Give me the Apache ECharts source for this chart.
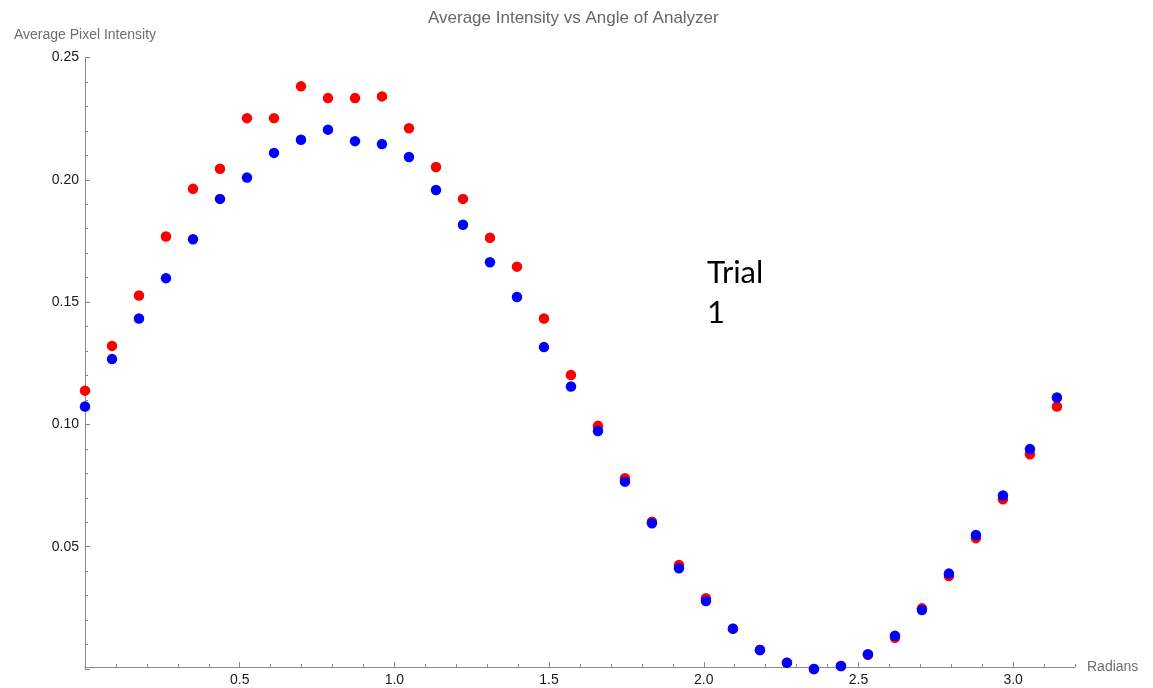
<!DOCTYPE html>
<html>
<head>
<meta charset="utf-8">
<script src="https://cdn.jsdelivr.net/npm/echarts@6/dist/echarts.min.js"></script>
<style>
  html, body { margin: 0; padding: 0; background: #fff; }
  #chart { width: 1153px; height: 688px; }
</style>
</head>
<body>
<div id="chart"></div>
<script>
// Analyzer angle in radians (5 degree steps from 0 to pi)
const radians = [
  0.0000, 0.0873, 0.1745, 0.2618, 0.3491, 0.4363, 0.5236, 0.6109, 0.6981, 0.7854,
  0.8727, 0.9599, 1.0472, 1.1345, 1.2217, 1.3090, 1.3963, 1.4835, 1.5708, 1.6581,
  1.7453, 1.8326, 1.9199, 2.0071, 2.0944, 2.1817, 2.2689, 2.3562, 2.4435, 2.5307,
  2.6180, 2.7053, 2.7925, 2.8798, 2.9671, 3.0543, 3.1416
];

// Average pixel intensity, red set
const redIntensity = [
  0.1138, 0.1321, 0.1527, 0.1768, 0.1963, 0.2045, 0.2252, 0.2252, 0.2382, 0.2334,
  0.2334, 0.2341, 0.2211, 0.2052, 0.1922, 0.1763, 0.1645, 0.1433, 0.1202, 0.0994,
  0.0780, 0.0602, 0.0425, 0.0289, 0.0165, 0.0078, 0.0026, 0.0000, 0.0012, 0.0058,
  0.0128, 0.0248, 0.0380, 0.0535, 0.0694, 0.0878, 0.1073
];

// Average pixel intensity, blue set
const blueIntensity = [
  0.1073, 0.1267, 0.1433, 0.1598, 0.1757, 0.1922, 0.2009, 0.2110, 0.2164, 0.2205,
  0.2158, 0.2146, 0.2093, 0.1958, 0.1816, 0.1663, 0.1521, 0.1316, 0.1155, 0.0973,
  0.0766, 0.0596, 0.0412, 0.0278, 0.0165, 0.0078, 0.0026, 0.0000, 0.0012, 0.0060,
  0.0136, 0.0241, 0.0390, 0.0548, 0.0709, 0.0899, 0.1110
];

// Major tick positions and labelled values on the x axis
const xMajorTicks = [0, 0.5, 1.0, 1.5, 2.0, 2.5, 3.0];
const xLabelTicks = [0.5, 1.0, 1.5, 2.0, 2.5, 3.0];

const AXIS_GRAY = '#8a8a8a';
const NAME_GRAY = '#6e6e6e';
const FONT = '"Liberation Sans", Arial, sans-serif';

const pairs = (xs, ys) => xs.map((x, i) => [x, ys[i]]);

const chart = echarts.init(document.getElementById('chart'), null, { renderer: 'canvas' });

chart.setOption({
  animation: false,
  backgroundColor: '#ffffff',
  title: {
    text: 'Average Intensity vs Angle of Analyzer',
    left: 423,
    top: 5,
    textStyle: { fontFamily: FONT, fontSize: 17, fontWeight: 'normal', color: '#666666' }
  },
  grid: { left: 85, top: 57.5, width: 990, height: 611.5, containLabel: false },
  xAxis: [
    {
      // minor ticks every 0.1 and the axis line
      type: 'value', min: 0, max: 3.2, interval: 0.1,
      position: 'bottom', offset: -2,
      axisLine: { onZero: false, lineStyle: { color: AXIS_GRAY, width: 1 } },
      axisTick: { inside: true, length: 3, lineStyle: { color: AXIS_GRAY } },
      axisLabel: { show: false },
      splitLine: { show: false },
      name: 'Radians', nameLocation: 'end', nameGap: 12,
      nameTextStyle: { fontFamily: FONT, fontSize: 14, color: NAME_GRAY }
    },
    {
      // major ticks and labels every 0.5
      type: 'value', min: 0, max: 3.2, interval: 0.5,
      position: 'bottom', offset: -2,
      axisLine: { show: false, onZero: false },
      axisTick: { inside: true, length: 5, lineStyle: { color: AXIS_GRAY }, customValues: xMajorTicks },
      axisLabel: {
        margin: 6, fontFamily: FONT, fontSize: 14, color: '#1a1a1a',
        customValues: xLabelTicks,
        formatter: v => v.toFixed(1)
      },
      splitLine: { show: false }
    }
  ],
  yAxis: {
    type: 'value', min: 0, max: 0.25, interval: 0.05,
    axisLine: { onZero: false, lineStyle: { color: AXIS_GRAY, width: 1 } },
    axisTick: { inside: true, length: 5, lineStyle: { color: AXIS_GRAY } },
    minorTick: { show: true, splitNumber: 5, length: 3, lineStyle: { color: AXIS_GRAY } },
    axisLabel: {
      margin: 6, fontFamily: FONT, fontSize: 14, color: '#1a1a1a',
      showMinLabel: false,
      formatter: v => v.toFixed(2)
    },
    splitLine: { show: false },
    minorSplitLine: { show: false },
    name: 'Average Pixel Intensity', nameLocation: 'end', nameGap: 15,
    nameTextStyle: { fontFamily: FONT, fontSize: 14, color: NAME_GRAY, align: 'center' }
  },
  series: [
    {
      name: 'Red', type: 'scatter', xAxisIndex: 0, clip: false,
      symbol: 'circle', symbolSize: 10.5,
      itemStyle: { color: '#ff0000', opacity: 1 },
      data: pairs(radians, redIntensity)
    },
    {
      name: 'Blue', type: 'scatter', xAxisIndex: 0, clip: false,
      symbol: 'circle', symbolSize: 10.5,
      itemStyle: { color: '#0000ff', opacity: 1 },
      data: pairs(radians, blueIntensity)
    }
  ],
  graphic: [
    {
      type: 'text', left: 707, top: 253,
      style: {
        text: 'Trial\n1',
        font: '31px Lato, "Open Sans", sans-serif',
        lineHeight: 40,
        fill: '#000000'
      }
    }
  ]
});
</script>
</body>
</html>
